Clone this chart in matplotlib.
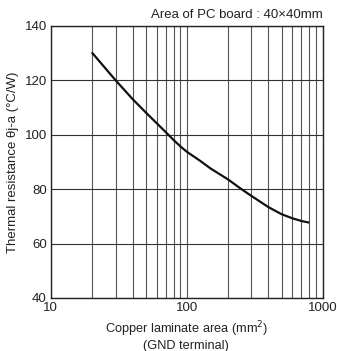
import numpy as np
import matplotlib.pyplot as plt

plt.rcParams['font.family'] = ['Liberation Sans', 'DejaVu Sans']

# copper area (mm2) and thermal resistance (degC/W)
area = [20, 30, 40, 50, 60, 70, 80, 90, 100, 125, 150, 200, 250, 300, 400, 500, 600, 700, 800]
theta = [130.3, 120.0, 113.1, 108.2, 104.3, 101.0, 98.1, 95.7, 93.8, 90.5, 87.6,
         83.7, 80.2, 77.5, 73.4, 70.8, 69.3, 68.3, 67.7]

y_ticks = [40, 60, 80, 100, 120, 140]
x_ticks = [10, 100, 1000]

fig = plt.figure(figsize=(3.37, 3.51), dpi=100)
ax = fig.add_axes([0.151, 0.151, 0.806, 0.775])

ax.plot(area, theta, color='#111111', linewidth=1.6, solid_capstyle='butt',
        solid_joinstyle='round')

ax.set_xscale('log')
ax.set_xlim(10, 1000)
ax.set_ylim(40, 140)
ax.set_yticks(y_ticks)
ax.set_xticks(x_ticks)
ax.set_xticklabels([str(v) for v in x_ticks])
ax.set_yticklabels([str(v) for v in y_ticks])
ax.minorticks_on()
ax.yaxis.set_minor_locator(plt.NullLocator())

ax.grid(True, which='major', axis='y', color='#333333', linewidth=0.8)
ax.grid(True, which='both', axis='x', color='#555555', linewidth=0.8)
ax.tick_params(which='both', length=0, labelsize=9.5, colors='#222222', pad=3)

for s in ax.spines.values():
    s.set_color('#222222')
    s.set_linewidth(1.0)

fig.text(13 / 337, 0.538, 'Thermal resistance θj-a (°C/W)', rotation=90,
         ha='center', va='center', fontsize=9.5, color='#222222')
fig.text(0.553, 1 - 333.5 / 351, 'Copper laminate area (mm$^2$)',
         ha='center', va='baseline', fontsize=9.2, color='#222222')
fig.text(0.553, 1 - 349 / 351, '(GND terminal)',
         ha='center', va='baseline', fontsize=9.2, color='#222222')
ax.text(1.0, 1.02, 'Area of PC board : 40×40mm', transform=ax.transAxes,
        ha='right', va='bottom', fontsize=9.5, color='#222222')

fig.savefig('out.png', dpi=100)
